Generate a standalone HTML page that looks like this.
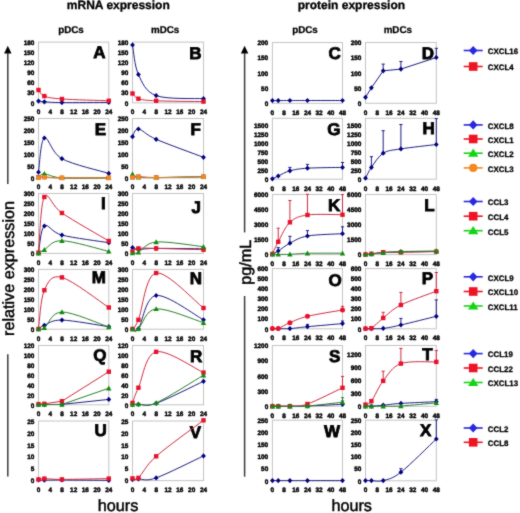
<!DOCTYPE html>
<html><head><meta charset="utf-8"><title>figure</title><style>html,body{margin:0;padding:0;background:#fff;width:520px;height:513px;overflow:hidden}svg{display:block}#w{will-change:transform;width:520px;height:513px}</style></head><body><div id="w">
<svg width="520" height="513" viewBox="0 0 520 513">
<style>text{font-family:"Liberation Sans", sans-serif;fill:#000;text-rendering:geometricPrecision}.ax{font-size:6.4px;font-weight:bold;stroke:#000;stroke-width:0.45px;stroke-linejoin:round}.lt{font-size:17px;font-weight:bold;stroke:#000;stroke-width:0.8px}.hd{font-size:12px;font-weight:bold;stroke:#000;stroke-width:0.3px}.sh{font-size:9.8px;font-weight:bold;stroke:#000;stroke-width:0.25px}.lg{font-size:7.9px;font-weight:bold;stroke:#000;stroke-width:0.3px;stroke-linejoin:round}.big{font-size:16.2px;stroke:#000;stroke-width:0.45px}</style>
<defs><filter id="bl" color-interpolation-filters="sRGB" x="0" y="0" width="520" height="513" filterUnits="userSpaceOnUse"><feConvolveMatrix order="3" kernelMatrix="0.025 0.085 0.025 0.085 0.56 0.085 0.025 0.085 0.025" preserveAlpha="true" edgeMode="duplicate"/></filter></defs>
<g filter="url(#bl)">
<rect width="520" height="513" fill="#fff"/>
<text x="118.3" y="9.4" text-anchor="middle" class="hd">mRNA expression</text>
<text x="351.4" y="9.4" text-anchor="middle" class="hd">protein expression</text>
<text x="71" y="32.5" text-anchor="middle" class="sh">pDCs</text>
<text x="165.1" y="32.5" text-anchor="middle" class="sh">mDCs</text>
<text x="305" y="32.5" text-anchor="middle" class="sh">pDCs</text>
<text x="397.8" y="32.5" text-anchor="middle" class="sh">mDCs</text>
<path d="M7.8,45.8 L11.5,53.6 L4.1,53.6 Z" fill="#000"/>
<path d="M7.8,53 V184" stroke="#3a3a3a" stroke-width="1.5"/>
<path d="M7.8,354.2 V476.4" stroke="#3a3a3a" stroke-width="1.5"/>
<path d="M244.6,45.8 L248.3,53.6 L240.9,53.6 Z" fill="#000"/>
<path d="M244.6,53 V232.4" stroke="#3a3a3a" stroke-width="1.5"/>
<path d="M244.6,296 V476.7" stroke="#3a3a3a" stroke-width="1.5"/>
<text transform="translate(14.4,268.5) rotate(-90)" text-anchor="middle" class="big">relative expression</text>
<text transform="translate(251.2,262.3) rotate(-90)" text-anchor="middle" class="big">pg/mL</text>
<text x="118" y="510.6" text-anchor="middle" class="big">hours</text>
<text x="351.7" y="511.2" text-anchor="middle" class="big">hours</text>
<rect x="38.5" y="42.1" width="70.3" height="60.8" fill="none" stroke="#c4c4c4" stroke-width="1"/>
<text x="34.3" y="105.6" text-anchor="end" class="ax">0</text>
<text x="34.3" y="95.47" text-anchor="end" class="ax">30</text>
<text x="34.3" y="85.33" text-anchor="end" class="ax">60</text>
<text x="34.3" y="75.2" text-anchor="end" class="ax">90</text>
<text x="34.3" y="65.07" text-anchor="end" class="ax">120</text>
<text x="34.3" y="54.93" text-anchor="end" class="ax">150</text>
<text x="34.3" y="44.8" text-anchor="end" class="ax">180</text>
<text x="38.5" y="114.4" text-anchor="middle" class="ax">0</text>
<text x="50.22" y="114.4" text-anchor="middle" class="ax">4</text>
<text x="61.93" y="114.4" text-anchor="middle" class="ax">8</text>
<text x="73.65" y="114.4" text-anchor="middle" class="ax">12</text>
<text x="85.37" y="114.4" text-anchor="middle" class="ax">16</text>
<text x="97.08" y="114.4" text-anchor="middle" class="ax">20</text>
<text x="108.8" y="114.4" text-anchor="middle" class="ax">24</text>
<text x="105.5" y="57.7" text-anchor="end" class="lt">A</text>
<path d="M38.5,101.1 C39.48,101.22 40.45,101.55 44.36,101.8 C48.26,102.05 51.19,102.48 61.93,102.6 C72.67,102.72 100.99,102.52 108.8,102.5" stroke="#1c1c80" stroke-width="1" fill="none"/>
<path d="M38.5,98.5 L40.9,101.1 L38.5,103.7 L36.1,101.1 Z" fill="#000080"/>
<path d="M44.36,99.2 L46.76,101.8 L44.36,104.4 L41.96,101.8 Z" fill="#000080"/>
<path d="M61.93,100 L64.33,102.6 L61.93,105.2 L59.53,102.6 Z" fill="#000080"/>
<path d="M108.8,99.9 L111.2,102.5 L108.8,105.1 L106.4,102.5 Z" fill="#000080"/>
<path d="M38.5,90 C39.48,91.02 40.45,94.6 44.36,96.1 C48.26,97.6 51.19,98.22 61.93,99 C72.67,99.78 100.99,100.5 108.8,100.8" stroke="#cc2a40" stroke-width="1" fill="none"/>
<rect x="36.3" y="87.8" width="4.4" height="4.4" fill="#e8102a"/>
<rect x="42.16" y="93.9" width="4.4" height="4.4" fill="#e8102a"/>
<rect x="59.73" y="96.8" width="4.4" height="4.4" fill="#e8102a"/>
<rect x="106.6" y="98.6" width="4.4" height="4.4" fill="#e8102a"/>
<rect x="132.5" y="42.1" width="71" height="60.8" fill="none" stroke="#c4c4c4" stroke-width="1"/>
<text x="128.3" y="105.6" text-anchor="end" class="ax">0</text>
<text x="128.3" y="95.47" text-anchor="end" class="ax">30</text>
<text x="128.3" y="85.33" text-anchor="end" class="ax">60</text>
<text x="128.3" y="75.2" text-anchor="end" class="ax">90</text>
<text x="128.3" y="65.07" text-anchor="end" class="ax">120</text>
<text x="128.3" y="54.93" text-anchor="end" class="ax">150</text>
<text x="128.3" y="44.8" text-anchor="end" class="ax">180</text>
<text x="132.5" y="114.4" text-anchor="middle" class="ax">0</text>
<text x="144.33" y="114.4" text-anchor="middle" class="ax">4</text>
<text x="156.17" y="114.4" text-anchor="middle" class="ax">8</text>
<text x="168" y="114.4" text-anchor="middle" class="ax">12</text>
<text x="179.83" y="114.4" text-anchor="middle" class="ax">16</text>
<text x="191.67" y="114.4" text-anchor="middle" class="ax">20</text>
<text x="203.5" y="114.4" text-anchor="middle" class="ax">24</text>
<text x="201.5" y="59.3" text-anchor="end" class="lt">B</text>
<path d="M132.5,44.9 C133.49,49.83 134.47,66.05 138.42,74.5 C142.36,82.95 145.32,91.57 156.17,95.6 C167.01,99.63 195.61,98.18 203.5,98.7" stroke="#1c1c80" stroke-width="1" fill="none"/>
<path d="M132.5,42.3 L134.9,44.9 L132.5,47.5 L130.1,44.9 Z" fill="#000080"/>
<path d="M138.42,71.9 L140.82,74.5 L138.42,77.1 L136.02,74.5 Z" fill="#000080"/>
<path d="M156.17,93 L158.57,95.6 L156.17,98.2 L153.77,95.6 Z" fill="#000080"/>
<path d="M203.5,96.1 L205.9,98.7 L203.5,101.3 L201.1,98.7 Z" fill="#000080"/>
<path d="M132.5,93.5 C133.49,94.37 134.47,97.48 138.42,98.7 C142.36,99.92 145.32,100.32 156.17,100.8 C167.01,101.28 195.61,101.47 203.5,101.6" stroke="#cc2a40" stroke-width="1" fill="none"/>
<rect x="130.3" y="91.3" width="4.4" height="4.4" fill="#e8102a"/>
<rect x="136.22" y="96.5" width="4.4" height="4.4" fill="#e8102a"/>
<rect x="153.97" y="98.6" width="4.4" height="4.4" fill="#e8102a"/>
<rect x="201.3" y="99.4" width="4.4" height="4.4" fill="#e8102a"/>
<rect x="272.4" y="42.5" width="70.1" height="60.8" fill="none" stroke="#c4c4c4" stroke-width="1"/>
<text x="268.2" y="106" text-anchor="end" class="ax">0</text>
<text x="268.2" y="90.8" text-anchor="end" class="ax">50</text>
<text x="268.2" y="75.6" text-anchor="end" class="ax">100</text>
<text x="268.2" y="60.4" text-anchor="end" class="ax">150</text>
<text x="268.2" y="45.2" text-anchor="end" class="ax">200</text>
<text x="272.4" y="114.8" text-anchor="middle" class="ax">0</text>
<text x="284.08" y="114.8" text-anchor="middle" class="ax">8</text>
<text x="295.77" y="114.8" text-anchor="middle" class="ax">16</text>
<text x="307.45" y="114.8" text-anchor="middle" class="ax">24</text>
<text x="319.13" y="114.8" text-anchor="middle" class="ax">32</text>
<text x="330.82" y="114.8" text-anchor="middle" class="ax">40</text>
<text x="342.5" y="114.8" text-anchor="middle" class="ax">48</text>
<text x="340.9" y="59.2" text-anchor="end" class="lt">C</text>
<path d="M272.4,100.6 C273.37,100.6 275.32,100.62 278.24,100.6 C281.16,100.58 285.06,100.52 289.92,100.5 C294.79,100.48 298.69,100.5 307.45,100.5 C316.21,100.5 336.66,100.5 342.5,100.5" stroke="#1c1c80" stroke-width="1" fill="none"/>
<path d="M272.4,98 L274.8,100.6 L272.4,103.2 L270,100.6 Z" fill="#000080"/>
<path d="M278.24,98 L280.64,100.6 L278.24,103.2 L275.84,100.6 Z" fill="#000080"/>
<path d="M289.92,97.9 L292.32,100.5 L289.92,103.1 L287.52,100.5 Z" fill="#000080"/>
<path d="M307.45,97.9 L309.85,100.5 L307.45,103.1 L305.05,100.5 Z" fill="#000080"/>
<path d="M342.5,97.9 L344.9,100.5 L342.5,103.1 L340.1,100.5 Z" fill="#000080"/>
<rect x="365.5" y="42.5" width="70.8" height="60.8" fill="none" stroke="#c4c4c4" stroke-width="1"/>
<text x="361.3" y="106" text-anchor="end" class="ax">0</text>
<text x="361.3" y="90.8" text-anchor="end" class="ax">50</text>
<text x="361.3" y="75.6" text-anchor="end" class="ax">100</text>
<text x="361.3" y="60.4" text-anchor="end" class="ax">150</text>
<text x="361.3" y="45.2" text-anchor="end" class="ax">200</text>
<text x="365.5" y="114.8" text-anchor="middle" class="ax">0</text>
<text x="377.3" y="114.8" text-anchor="middle" class="ax">8</text>
<text x="389.1" y="114.8" text-anchor="middle" class="ax">16</text>
<text x="400.9" y="114.8" text-anchor="middle" class="ax">24</text>
<text x="412.7" y="114.8" text-anchor="middle" class="ax">32</text>
<text x="424.5" y="114.8" text-anchor="middle" class="ax">40</text>
<text x="436.3" y="114.8" text-anchor="middle" class="ax">48</text>
<text x="434.1" y="58.5" text-anchor="end" class="lt">D</text>
<path d="M383.2,70.8 V64.1 M381.6,64.1 H384.8" stroke="#1c1c80" stroke-width="1" fill="none"/>
<path d="M400.9,69.1 V61.5 M399.3,61.5 H402.5" stroke="#1c1c80" stroke-width="1" fill="none"/>
<path d="M436.3,57.5 V48.3 M434.7,48.3 H437.9" stroke="#1c1c80" stroke-width="1" fill="none"/>
<path d="M365.5,97.3 L371.4,87.8 L383.2,70.8 L400.9,69.1 L436.3,57.5" stroke="#1c1c80" stroke-width="1" fill="none"/>
<path d="M365.5,94.7 L367.9,97.3 L365.5,99.9 L363.1,97.3 Z" fill="#000080"/>
<path d="M371.4,85.2 L373.8,87.8 L371.4,90.4 L369,87.8 Z" fill="#000080"/>
<path d="M383.2,68.2 L385.6,70.8 L383.2,73.4 L380.8,70.8 Z" fill="#000080"/>
<path d="M400.9,66.5 L403.3,69.1 L400.9,71.7 L398.5,69.1 Z" fill="#000080"/>
<path d="M436.3,54.9 L438.7,57.5 L436.3,60.1 L433.9,57.5 Z" fill="#000080"/>
<rect x="38.5" y="118.5" width="70.3" height="59.4" fill="none" stroke="#c4c4c4" stroke-width="1"/>
<text x="34.3" y="180.6" text-anchor="end" class="ax">0</text>
<text x="34.3" y="168.72" text-anchor="end" class="ax">50</text>
<text x="34.3" y="156.84" text-anchor="end" class="ax">100</text>
<text x="34.3" y="144.96" text-anchor="end" class="ax">150</text>
<text x="34.3" y="133.08" text-anchor="end" class="ax">200</text>
<text x="34.3" y="121.2" text-anchor="end" class="ax">250</text>
<text x="38.5" y="189.4" text-anchor="middle" class="ax">0</text>
<text x="50.22" y="189.4" text-anchor="middle" class="ax">4</text>
<text x="61.93" y="189.4" text-anchor="middle" class="ax">8</text>
<text x="73.65" y="189.4" text-anchor="middle" class="ax">12</text>
<text x="85.37" y="189.4" text-anchor="middle" class="ax">16</text>
<text x="97.08" y="189.4" text-anchor="middle" class="ax">20</text>
<text x="108.8" y="189.4" text-anchor="middle" class="ax">24</text>
<text x="106.2" y="135" text-anchor="end" class="lt">E</text>
<path d="M38.5,172.2 C39.48,166.5 40.45,140.25 44.36,138 C48.26,135.75 51.19,152.8 61.93,158.7 C72.67,164.6 100.99,170.95 108.8,173.4" stroke="#1c1c80" stroke-width="1" fill="none"/>
<path d="M38.5,177.2 C39.48,177.17 40.45,176.88 44.36,177 C48.26,177.12 51.19,177.75 61.93,177.9 C72.67,178.05 100.99,177.9 108.8,177.9" stroke="#cc2a40" stroke-width="1" fill="none"/>
<path d="M38.5,177.4 C39.48,176.8 40.45,173.72 44.36,173.8 C48.26,173.88 51.19,177.22 61.93,177.9 C72.67,178.58 100.99,177.9 108.8,177.9" stroke="#2a802a" stroke-width="1" fill="none"/>
<path d="M38.5,177.6 C39.48,177.55 40.45,177.25 44.36,177.3 C48.26,177.35 51.19,177.8 61.93,177.9 C72.67,178 100.99,177.9 108.8,177.9" stroke="#d88a30" stroke-width="1" fill="none"/>
<path d="M38.5,169.6 L40.9,172.2 L38.5,174.8 L36.1,172.2 Z" fill="#000080"/>
<path d="M44.36,135.4 L46.76,138 L44.36,140.6 L41.96,138 Z" fill="#000080"/>
<path d="M61.93,156.1 L64.33,158.7 L61.93,161.3 L59.53,158.7 Z" fill="#000080"/>
<path d="M108.8,170.8 L111.2,173.4 L108.8,176 L106.4,173.4 Z" fill="#000080"/>
<rect x="36.3" y="175" width="4.4" height="4.4" fill="#e8102a"/>
<rect x="42.16" y="174.8" width="4.4" height="4.4" fill="#e8102a"/>
<rect x="59.73" y="175.7" width="4.4" height="4.4" fill="#e8102a"/>
<rect x="106.6" y="175.7" width="4.4" height="4.4" fill="#e8102a"/>
<path d="M38.5,174.7 L41.2,179.6 L35.8,179.6 Z" fill="#108a10"/>
<path d="M44.36,171.1 L47.06,176 L41.66,176 Z" fill="#108a10"/>
<path d="M61.93,175.2 L64.63,180.1 L59.23,180.1 Z" fill="#108a10"/>
<path d="M108.8,175.2 L111.5,180.1 L106.1,180.1 Z" fill="#108a10"/>
<rect x="36.3" y="175.4" width="4.4" height="4.4" fill="#f08a20"/>
<rect x="42.16" y="175.1" width="4.4" height="4.4" fill="#f08a20"/>
<rect x="59.73" y="175.7" width="4.4" height="4.4" fill="#f08a20"/>
<rect x="106.6" y="175.7" width="4.4" height="4.4" fill="#f08a20"/>
<rect x="132.5" y="118.5" width="71" height="59.4" fill="none" stroke="#c4c4c4" stroke-width="1"/>
<text x="128.3" y="180.6" text-anchor="end" class="ax">0</text>
<text x="128.3" y="168.72" text-anchor="end" class="ax">50</text>
<text x="128.3" y="156.84" text-anchor="end" class="ax">100</text>
<text x="128.3" y="144.96" text-anchor="end" class="ax">150</text>
<text x="128.3" y="133.08" text-anchor="end" class="ax">200</text>
<text x="128.3" y="121.2" text-anchor="end" class="ax">250</text>
<text x="132.5" y="189.4" text-anchor="middle" class="ax">0</text>
<text x="144.33" y="189.4" text-anchor="middle" class="ax">4</text>
<text x="156.17" y="189.4" text-anchor="middle" class="ax">8</text>
<text x="168" y="189.4" text-anchor="middle" class="ax">12</text>
<text x="179.83" y="189.4" text-anchor="middle" class="ax">16</text>
<text x="191.67" y="189.4" text-anchor="middle" class="ax">20</text>
<text x="203.5" y="189.4" text-anchor="middle" class="ax">24</text>
<text x="200.9" y="135" text-anchor="end" class="lt">F</text>
<path d="M132.5,136.7 C133.49,135.42 134.47,128.57 138.42,129 C142.36,129.43 145.32,134.58 156.17,139.3 C167.01,144.02 195.61,154.3 203.5,157.3" stroke="#1c1c80" stroke-width="1" fill="none"/>
<path d="M132.5,177.2 C133.49,177.12 134.47,176.65 138.42,176.7 C142.36,176.75 145.32,177.5 156.17,177.5 C167.01,177.5 195.61,176.83 203.5,176.7" stroke="#cc2a40" stroke-width="1" fill="none"/>
<path d="M132.5,174 C133.49,174.53 134.47,176.6 138.42,177.2 C142.36,177.8 145.32,177.7 156.17,177.6 C167.01,177.5 195.61,176.77 203.5,176.6" stroke="#2a802a" stroke-width="1" fill="none"/>
<path d="M132.5,177.5 C133.49,177.4 134.47,176.87 138.42,176.9 C142.36,176.93 145.32,177.7 156.17,177.7 C167.01,177.7 195.61,177.03 203.5,176.9" stroke="#d88a30" stroke-width="1" fill="none"/>
<path d="M132.5,134.1 L134.9,136.7 L132.5,139.3 L130.1,136.7 Z" fill="#000080"/>
<path d="M138.42,126.4 L140.82,129 L138.42,131.6 L136.02,129 Z" fill="#000080"/>
<path d="M156.17,136.7 L158.57,139.3 L156.17,141.9 L153.77,139.3 Z" fill="#000080"/>
<path d="M203.5,154.7 L205.9,157.3 L203.5,159.9 L201.1,157.3 Z" fill="#000080"/>
<rect x="130.3" y="175" width="4.4" height="4.4" fill="#e8102a"/>
<rect x="136.22" y="174.5" width="4.4" height="4.4" fill="#e8102a"/>
<rect x="153.97" y="175.3" width="4.4" height="4.4" fill="#e8102a"/>
<rect x="201.3" y="174.5" width="4.4" height="4.4" fill="#e8102a"/>
<path d="M132.5,171.3 L135.2,176.2 L129.8,176.2 Z" fill="#108a10"/>
<path d="M138.42,174.5 L141.12,179.4 L135.72,179.4 Z" fill="#108a10"/>
<path d="M156.17,174.9 L158.87,179.8 L153.47,179.8 Z" fill="#108a10"/>
<path d="M203.5,173.9 L206.2,178.8 L200.8,178.8 Z" fill="#108a10"/>
<rect x="130.3" y="175.3" width="4.4" height="4.4" fill="#f08a20"/>
<rect x="136.22" y="174.7" width="4.4" height="4.4" fill="#f08a20"/>
<rect x="153.97" y="175.5" width="4.4" height="4.4" fill="#f08a20"/>
<rect x="201.3" y="174.7" width="4.4" height="4.4" fill="#f08a20"/>
<rect x="272.4" y="118.3" width="70.1" height="60.9" fill="none" stroke="#c4c4c4" stroke-width="1"/>
<text x="268.2" y="181.9" text-anchor="end" class="ax">0</text>
<text x="268.2" y="172.97" text-anchor="end" class="ax">250</text>
<text x="268.2" y="164.03" text-anchor="end" class="ax">500</text>
<text x="268.2" y="155.1" text-anchor="end" class="ax">750</text>
<text x="268.2" y="146.16" text-anchor="end" class="ax">1000</text>
<text x="268.2" y="137.23" text-anchor="end" class="ax">1250</text>
<text x="268.2" y="128.29" text-anchor="end" class="ax">1500</text>
<text x="272.4" y="190.7" text-anchor="middle" class="ax">0</text>
<text x="284.08" y="190.7" text-anchor="middle" class="ax">8</text>
<text x="295.77" y="190.7" text-anchor="middle" class="ax">16</text>
<text x="307.45" y="190.7" text-anchor="middle" class="ax">24</text>
<text x="319.13" y="190.7" text-anchor="middle" class="ax">32</text>
<text x="330.82" y="190.7" text-anchor="middle" class="ax">40</text>
<text x="342.5" y="190.7" text-anchor="middle" class="ax">48</text>
<text x="340.5" y="135.3" text-anchor="end" class="lt">G</text>
<path d="M289.92,170.8 V167.4 M288.32,167.4 H291.52" stroke="#1c1c80" stroke-width="1" fill="none"/>
<path d="M307.45,168.2 V164.4 M305.85,164.4 H309.05" stroke="#1c1c80" stroke-width="1" fill="none"/>
<path d="M342.5,167.4 V162.5 M340.9,162.5 H344.1" stroke="#1c1c80" stroke-width="1" fill="none"/>
<path d="M272.4,178.8 C273.37,178.33 275.32,177.33 278.24,176 C281.16,174.67 285.06,172.1 289.92,170.8 C294.79,169.5 298.69,168.77 307.45,168.2 C316.21,167.63 336.66,167.53 342.5,167.4" stroke="#1c1c80" stroke-width="1" fill="none"/>
<path d="M272.4,176.2 L274.8,178.8 L272.4,181.4 L270,178.8 Z" fill="#000080"/>
<path d="M278.24,173.4 L280.64,176 L278.24,178.6 L275.84,176 Z" fill="#000080"/>
<path d="M289.92,168.2 L292.32,170.8 L289.92,173.4 L287.52,170.8 Z" fill="#000080"/>
<path d="M307.45,165.6 L309.85,168.2 L307.45,170.8 L305.05,168.2 Z" fill="#000080"/>
<path d="M342.5,164.8 L344.9,167.4 L342.5,170 L340.1,167.4 Z" fill="#000080"/>
<rect x="365.5" y="118.3" width="70.8" height="60.9" fill="none" stroke="#c4c4c4" stroke-width="1"/>
<text x="361.3" y="181.9" text-anchor="end" class="ax">0</text>
<text x="361.3" y="172.97" text-anchor="end" class="ax">250</text>
<text x="361.3" y="164.03" text-anchor="end" class="ax">500</text>
<text x="361.3" y="155.1" text-anchor="end" class="ax">750</text>
<text x="361.3" y="146.16" text-anchor="end" class="ax">1000</text>
<text x="361.3" y="137.23" text-anchor="end" class="ax">1250</text>
<text x="361.3" y="128.29" text-anchor="end" class="ax">1500</text>
<text x="365.5" y="190.7" text-anchor="middle" class="ax">0</text>
<text x="377.3" y="190.7" text-anchor="middle" class="ax">8</text>
<text x="389.1" y="190.7" text-anchor="middle" class="ax">16</text>
<text x="400.9" y="190.7" text-anchor="middle" class="ax">24</text>
<text x="412.7" y="190.7" text-anchor="middle" class="ax">32</text>
<text x="424.5" y="190.7" text-anchor="middle" class="ax">40</text>
<text x="436.3" y="190.7" text-anchor="middle" class="ax">48</text>
<text x="434.9" y="134.4" text-anchor="end" class="lt">H</text>
<path d="M371.4,167.4 V156.7 M369.8,156.7 H373" stroke="#1c1c80" stroke-width="1" fill="none"/>
<path d="M383.2,153.2 V130.7 M381.6,130.7 H384.8" stroke="#1c1c80" stroke-width="1" fill="none"/>
<path d="M400.9,148.9 V124.5 M399.3,124.5 H402.5" stroke="#1c1c80" stroke-width="1" fill="none"/>
<path d="M436.3,144.5 V118.6 M434.7,118.6 H437.9" stroke="#1c1c80" stroke-width="1" fill="none"/>
<path d="M365.5,178.2 C366.48,176.4 368.45,171.57 371.4,167.4 C374.35,163.23 378.28,156.28 383.2,153.2 C388.12,150.12 392.05,150.35 400.9,148.9 C409.75,147.45 430.4,145.23 436.3,144.5" stroke="#1c1c80" stroke-width="1" fill="none"/>
<path d="M365.5,175.6 L367.9,178.2 L365.5,180.8 L363.1,178.2 Z" fill="#000080"/>
<path d="M371.4,164.8 L373.8,167.4 L371.4,170 L369,167.4 Z" fill="#000080"/>
<path d="M383.2,150.6 L385.6,153.2 L383.2,155.8 L380.8,153.2 Z" fill="#000080"/>
<path d="M400.9,146.3 L403.3,148.9 L400.9,151.5 L398.5,148.9 Z" fill="#000080"/>
<path d="M436.3,141.9 L438.7,144.5 L436.3,147.1 L433.9,144.5 Z" fill="#000080"/>
<rect x="38.5" y="193.5" width="70.3" height="59.9" fill="none" stroke="#c4c4c4" stroke-width="1"/>
<text x="34.3" y="256.1" text-anchor="end" class="ax">0</text>
<text x="34.3" y="246.12" text-anchor="end" class="ax">50</text>
<text x="34.3" y="236.13" text-anchor="end" class="ax">100</text>
<text x="34.3" y="226.15" text-anchor="end" class="ax">150</text>
<text x="34.3" y="216.17" text-anchor="end" class="ax">200</text>
<text x="34.3" y="206.18" text-anchor="end" class="ax">250</text>
<text x="34.3" y="196.2" text-anchor="end" class="ax">300</text>
<text x="38.5" y="264.9" text-anchor="middle" class="ax">0</text>
<text x="50.22" y="264.9" text-anchor="middle" class="ax">4</text>
<text x="61.93" y="264.9" text-anchor="middle" class="ax">8</text>
<text x="73.65" y="264.9" text-anchor="middle" class="ax">12</text>
<text x="85.37" y="264.9" text-anchor="middle" class="ax">16</text>
<text x="97.08" y="264.9" text-anchor="middle" class="ax">20</text>
<text x="108.8" y="264.9" text-anchor="middle" class="ax">24</text>
<text x="105.8" y="209.2" text-anchor="end" class="lt">I</text>
<path d="M38.5,253.2 C39.48,248.67 40.45,229.02 44.36,226 C48.26,222.98 51.19,232.32 61.93,235.1 C72.67,237.88 100.99,241.43 108.8,242.7" stroke="#1c1c80" stroke-width="1" fill="none"/>
<path d="M38.5,250.6 L40.9,253.2 L38.5,255.8 L36.1,253.2 Z" fill="#000080"/>
<path d="M44.36,223.4 L46.76,226 L44.36,228.6 L41.96,226 Z" fill="#000080"/>
<path d="M61.93,232.5 L64.33,235.1 L61.93,237.7 L59.53,235.1 Z" fill="#000080"/>
<path d="M108.8,240.1 L111.2,242.7 L108.8,245.3 L106.4,242.7 Z" fill="#000080"/>
<path d="M38.5,252.6 C39.48,243.33 40.45,203.6 44.36,197 C48.26,190.4 51.19,205.67 61.93,213 C72.67,220.33 100.99,236.33 108.8,241" stroke="#cc2a40" stroke-width="1" fill="none"/>
<rect x="36.3" y="250.4" width="4.4" height="4.4" fill="#e8102a"/>
<rect x="42.16" y="194.8" width="4.4" height="4.4" fill="#e8102a"/>
<rect x="59.73" y="210.8" width="4.4" height="4.4" fill="#e8102a"/>
<rect x="106.6" y="238.8" width="4.4" height="4.4" fill="#e8102a"/>
<path d="M38.5,253.2 C39.48,252.62 40.45,251.78 44.36,249.7 C48.26,247.62 51.19,240.42 61.93,240.7 C72.67,240.98 100.99,249.62 108.8,251.4" stroke="#2a802a" stroke-width="1" fill="none"/>
<path d="M38.5,250.5 L41.2,255.4 L35.8,255.4 Z" fill="#108a10"/>
<path d="M44.36,247 L47.06,251.9 L41.66,251.9 Z" fill="#108a10"/>
<path d="M61.93,238 L64.63,242.9 L59.23,242.9 Z" fill="#108a10"/>
<path d="M108.8,248.7 L111.5,253.6 L106.1,253.6 Z" fill="#108a10"/>
<rect x="132.5" y="193.5" width="71" height="59.9" fill="none" stroke="#c4c4c4" stroke-width="1"/>
<text x="128.3" y="256.1" text-anchor="end" class="ax">0</text>
<text x="128.3" y="246.12" text-anchor="end" class="ax">50</text>
<text x="128.3" y="236.13" text-anchor="end" class="ax">100</text>
<text x="128.3" y="226.15" text-anchor="end" class="ax">150</text>
<text x="128.3" y="216.17" text-anchor="end" class="ax">200</text>
<text x="128.3" y="206.18" text-anchor="end" class="ax">250</text>
<text x="128.3" y="196.2" text-anchor="end" class="ax">300</text>
<text x="132.5" y="264.9" text-anchor="middle" class="ax">0</text>
<text x="144.33" y="264.9" text-anchor="middle" class="ax">4</text>
<text x="156.17" y="264.9" text-anchor="middle" class="ax">8</text>
<text x="168" y="264.9" text-anchor="middle" class="ax">12</text>
<text x="179.83" y="264.9" text-anchor="middle" class="ax">16</text>
<text x="191.67" y="264.9" text-anchor="middle" class="ax">20</text>
<text x="203.5" y="264.9" text-anchor="middle" class="ax">24</text>
<text x="200.9" y="212.8" text-anchor="end" class="lt">J</text>
<path d="M132.5,247.6 C133.49,247.88 134.47,249.17 138.42,249.3 C142.36,249.43 145.32,248.48 156.17,248.4 C167.01,248.32 195.61,248.73 203.5,248.8" stroke="#1c1c80" stroke-width="1" fill="none"/>
<path d="M132.5,245 L134.9,247.6 L132.5,250.2 L130.1,247.6 Z" fill="#000080"/>
<path d="M138.42,246.7 L140.82,249.3 L138.42,251.9 L136.02,249.3 Z" fill="#000080"/>
<path d="M156.17,245.8 L158.57,248.4 L156.17,251 L153.77,248.4 Z" fill="#000080"/>
<path d="M203.5,246.2 L205.9,248.8 L203.5,251.4 L201.1,248.8 Z" fill="#000080"/>
<path d="M132.5,251.4 C133.49,250.9 134.47,248.9 138.42,248.4 C142.36,247.9 145.32,248.18 156.17,248.4 C167.01,248.62 195.61,249.48 203.5,249.7" stroke="#cc2a40" stroke-width="1" fill="none"/>
<rect x="130.3" y="249.2" width="4.4" height="4.4" fill="#e8102a"/>
<rect x="136.22" y="246.2" width="4.4" height="4.4" fill="#e8102a"/>
<rect x="153.97" y="246.2" width="4.4" height="4.4" fill="#e8102a"/>
<rect x="201.3" y="247.5" width="4.4" height="4.4" fill="#e8102a"/>
<path d="M132.5,253.1 C133.49,252.98 134.47,254.25 138.42,252.4 C142.36,250.55 145.32,242.95 156.17,242 C167.01,241.05 195.61,245.92 203.5,246.7" stroke="#2a802a" stroke-width="1" fill="none"/>
<path d="M132.5,250.4 L135.2,255.3 L129.8,255.3 Z" fill="#108a10"/>
<path d="M138.42,249.7 L141.12,254.6 L135.72,254.6 Z" fill="#108a10"/>
<path d="M156.17,239.3 L158.87,244.2 L153.47,244.2 Z" fill="#108a10"/>
<path d="M203.5,244 L206.2,248.9 L200.8,248.9 Z" fill="#108a10"/>
<rect x="272.4" y="194.5" width="70.1" height="60.1" fill="none" stroke="#c4c4c4" stroke-width="1"/>
<text x="268.2" y="257.3" text-anchor="end" class="ax">0</text>
<text x="268.2" y="242.27" text-anchor="end" class="ax">1500</text>
<text x="268.2" y="227.25" text-anchor="end" class="ax">3000</text>
<text x="268.2" y="212.22" text-anchor="end" class="ax">4500</text>
<text x="268.2" y="197.2" text-anchor="end" class="ax">6000</text>
<text x="272.4" y="266.1" text-anchor="middle" class="ax">0</text>
<text x="284.08" y="266.1" text-anchor="middle" class="ax">8</text>
<text x="295.77" y="266.1" text-anchor="middle" class="ax">16</text>
<text x="307.45" y="266.1" text-anchor="middle" class="ax">24</text>
<text x="319.13" y="266.1" text-anchor="middle" class="ax">32</text>
<text x="330.82" y="266.1" text-anchor="middle" class="ax">40</text>
<text x="342.5" y="266.1" text-anchor="middle" class="ax">48</text>
<text x="340.3" y="210.8" text-anchor="end" class="lt">K</text>
<path d="M278.24,251 V247.6 M276.64,247.6 H279.84" stroke="#1c1c80" stroke-width="1" fill="none"/>
<path d="M289.92,243.2 V236.3 M288.32,236.3 H291.52" stroke="#1c1c80" stroke-width="1" fill="none"/>
<path d="M307.45,236 V230.6 M305.85,230.6 H309.05" stroke="#1c1c80" stroke-width="1" fill="none"/>
<path d="M342.5,233.7 V226.8 M340.9,226.8 H344.1" stroke="#1c1c80" stroke-width="1" fill="none"/>
<path d="M272.4,254.2 C273.37,253.67 275.32,252.83 278.24,251 C281.16,249.17 285.06,245.7 289.92,243.2 C294.79,240.7 298.69,237.58 307.45,236 C316.21,234.42 336.66,234.08 342.5,233.7" stroke="#1c1c80" stroke-width="1" fill="none"/>
<path d="M272.4,251.6 L274.8,254.2 L272.4,256.8 L270,254.2 Z" fill="#000080"/>
<path d="M278.24,248.4 L280.64,251 L278.24,253.6 L275.84,251 Z" fill="#000080"/>
<path d="M289.92,240.6 L292.32,243.2 L289.92,245.8 L287.52,243.2 Z" fill="#000080"/>
<path d="M307.45,233.4 L309.85,236 L307.45,238.6 L305.05,236 Z" fill="#000080"/>
<path d="M342.5,231.1 L344.9,233.7 L342.5,236.3 L340.1,233.7 Z" fill="#000080"/>
<path d="M278.24,241.8 V228.2 M276.64,228.2 H279.84" stroke="#cc2a40" stroke-width="1" fill="none"/>
<path d="M289.92,222.3 V200.5 M288.32,200.5 H291.52" stroke="#cc2a40" stroke-width="1" fill="none"/>
<path d="M307.45,215 V194.3 M305.85,194.3 H309.05" stroke="#cc2a40" stroke-width="1" fill="none"/>
<path d="M342.5,214.7 V194.6 M340.9,194.6 H344.1" stroke="#cc2a40" stroke-width="1" fill="none"/>
<path d="M272.4,254 C273.37,251.97 275.32,247.08 278.24,241.8 C281.16,236.52 285.06,226.77 289.92,222.3 C294.79,217.83 298.69,216.27 307.45,215 C316.21,213.73 336.66,214.75 342.5,214.7" stroke="#cc2a40" stroke-width="1" fill="none"/>
<rect x="270.2" y="251.8" width="4.4" height="4.4" fill="#e8102a"/>
<rect x="276.04" y="239.6" width="4.4" height="4.4" fill="#e8102a"/>
<rect x="287.72" y="220.1" width="4.4" height="4.4" fill="#e8102a"/>
<rect x="305.25" y="212.8" width="4.4" height="4.4" fill="#e8102a"/>
<rect x="340.3" y="212.5" width="4.4" height="4.4" fill="#e8102a"/>
<path d="M272.4,254.4 C273.37,254.4 275.32,254.42 278.24,254.4 C281.16,254.38 285.06,254.48 289.92,254.3 C294.79,254.12 298.69,253.48 307.45,253.3 C316.21,253.12 336.66,253.22 342.5,253.2" stroke="#2a802a" stroke-width="1" fill="none"/>
<path d="M272.4,251.7 L275.1,256.6 L269.7,256.6 Z" fill="#108a10"/>
<path d="M278.24,251.7 L280.94,256.6 L275.54,256.6 Z" fill="#108a10"/>
<path d="M289.92,251.6 L292.62,256.5 L287.22,256.5 Z" fill="#108a10"/>
<path d="M307.45,250.6 L310.15,255.5 L304.75,255.5 Z" fill="#108a10"/>
<path d="M342.5,250.5 L345.2,255.4 L339.8,255.4 Z" fill="#108a10"/>
<rect x="365.5" y="194.5" width="70.8" height="60.1" fill="none" stroke="#c4c4c4" stroke-width="1"/>
<text x="361.3" y="257.3" text-anchor="end" class="ax">0</text>
<text x="361.3" y="242.27" text-anchor="end" class="ax">1500</text>
<text x="361.3" y="227.25" text-anchor="end" class="ax">3000</text>
<text x="361.3" y="212.22" text-anchor="end" class="ax">4500</text>
<text x="361.3" y="197.2" text-anchor="end" class="ax">6000</text>
<text x="365.5" y="266.1" text-anchor="middle" class="ax">0</text>
<text x="377.3" y="266.1" text-anchor="middle" class="ax">8</text>
<text x="389.1" y="266.1" text-anchor="middle" class="ax">16</text>
<text x="400.9" y="266.1" text-anchor="middle" class="ax">24</text>
<text x="412.7" y="266.1" text-anchor="middle" class="ax">32</text>
<text x="424.5" y="266.1" text-anchor="middle" class="ax">40</text>
<text x="436.3" y="266.1" text-anchor="middle" class="ax">48</text>
<text x="434.6" y="210.6" text-anchor="end" class="lt">L</text>
<path d="M365.5,254.4 C366.48,254.33 368.45,254.3 371.4,254 C374.35,253.7 378.28,252.95 383.2,252.6 C388.12,252.25 392.05,252.1 400.9,251.9 C409.75,251.7 430.4,251.48 436.3,251.4" stroke="#1c1c80" stroke-width="1" fill="none"/>
<path d="M365.5,251.8 L367.9,254.4 L365.5,257 L363.1,254.4 Z" fill="#000080"/>
<path d="M371.4,251.4 L373.8,254 L371.4,256.6 L369,254 Z" fill="#000080"/>
<path d="M383.2,250 L385.6,252.6 L383.2,255.2 L380.8,252.6 Z" fill="#000080"/>
<path d="M400.9,249.3 L403.3,251.9 L400.9,254.5 L398.5,251.9 Z" fill="#000080"/>
<path d="M436.3,248.8 L438.7,251.4 L436.3,254 L433.9,251.4 Z" fill="#000080"/>
<path d="M365.5,254.4 C366.48,254.3 368.45,254.17 371.4,253.8 C374.35,253.43 378.28,252.45 383.2,252.2 C388.12,251.95 392.05,252.4 400.9,252.3 C409.75,252.2 430.4,251.72 436.3,251.6" stroke="#cc2a40" stroke-width="1" fill="none"/>
<rect x="363.3" y="252.2" width="4.4" height="4.4" fill="#e8102a"/>
<rect x="369.2" y="251.6" width="4.4" height="4.4" fill="#e8102a"/>
<rect x="381" y="250" width="4.4" height="4.4" fill="#e8102a"/>
<rect x="398.7" y="250.1" width="4.4" height="4.4" fill="#e8102a"/>
<rect x="434.1" y="249.4" width="4.4" height="4.4" fill="#e8102a"/>
<path d="M365.5,254.4 C366.48,254.35 368.45,254.37 371.4,254.1 C374.35,253.83 378.28,253.22 383.2,252.8 C388.12,252.38 392.05,251.9 400.9,251.6 C409.75,251.3 430.4,251.1 436.3,251" stroke="#2a802a" stroke-width="1" fill="none"/>
<path d="M365.5,251.7 L368.2,256.6 L362.8,256.6 Z" fill="#108a10"/>
<path d="M371.4,251.4 L374.1,256.3 L368.7,256.3 Z" fill="#108a10"/>
<path d="M383.2,250.1 L385.9,255 L380.5,255 Z" fill="#108a10"/>
<path d="M400.9,248.9 L403.6,253.8 L398.2,253.8 Z" fill="#108a10"/>
<path d="M436.3,248.3 L439,253.2 L433.6,253.2 Z" fill="#108a10"/>
<rect x="38.5" y="269.4" width="70.3" height="59.8" fill="none" stroke="#c4c4c4" stroke-width="1"/>
<text x="34.3" y="331.9" text-anchor="end" class="ax">0</text>
<text x="34.3" y="321.93" text-anchor="end" class="ax">50</text>
<text x="34.3" y="311.97" text-anchor="end" class="ax">100</text>
<text x="34.3" y="302" text-anchor="end" class="ax">150</text>
<text x="34.3" y="292.03" text-anchor="end" class="ax">200</text>
<text x="34.3" y="282.07" text-anchor="end" class="ax">250</text>
<text x="34.3" y="272.1" text-anchor="end" class="ax">300</text>
<text x="38.5" y="340.7" text-anchor="middle" class="ax">0</text>
<text x="50.22" y="340.7" text-anchor="middle" class="ax">4</text>
<text x="61.93" y="340.7" text-anchor="middle" class="ax">8</text>
<text x="73.65" y="340.7" text-anchor="middle" class="ax">12</text>
<text x="85.37" y="340.7" text-anchor="middle" class="ax">16</text>
<text x="97.08" y="340.7" text-anchor="middle" class="ax">20</text>
<text x="108.8" y="340.7" text-anchor="middle" class="ax">24</text>
<text x="106" y="283.2" text-anchor="end" class="lt">M</text>
<path d="M38.5,329 C39.48,328.38 40.45,326.78 44.36,325.3 C48.26,323.82 51.19,319.87 61.93,320.1 C72.67,320.33 100.99,325.6 108.8,326.7" stroke="#1c1c80" stroke-width="1" fill="none"/>
<path d="M38.5,326.4 L40.9,329 L38.5,331.6 L36.1,329 Z" fill="#000080"/>
<path d="M44.36,322.7 L46.76,325.3 L44.36,327.9 L41.96,325.3 Z" fill="#000080"/>
<path d="M61.93,317.5 L64.33,320.1 L61.93,322.7 L59.53,320.1 Z" fill="#000080"/>
<path d="M108.8,324.1 L111.2,326.7 L108.8,329.3 L106.4,326.7 Z" fill="#000080"/>
<path d="M38.5,329 C39.48,322.53 40.45,298.8 44.36,290.2 C48.26,281.6 51.19,274.52 61.93,277.4 C72.67,280.28 100.99,302.48 108.8,307.5" stroke="#cc2a40" stroke-width="1" fill="none"/>
<rect x="36.3" y="326.8" width="4.4" height="4.4" fill="#e8102a"/>
<rect x="42.16" y="288" width="4.4" height="4.4" fill="#e8102a"/>
<rect x="59.73" y="275.2" width="4.4" height="4.4" fill="#e8102a"/>
<rect x="106.6" y="305.3" width="4.4" height="4.4" fill="#e8102a"/>
<path d="M38.5,329 C39.48,328.82 40.45,330.73 44.36,327.9 C48.26,325.07 51.19,312.15 61.93,312 C72.67,311.85 100.99,324.5 108.8,327" stroke="#2a802a" stroke-width="1" fill="none"/>
<path d="M38.5,326.3 L41.2,331.2 L35.8,331.2 Z" fill="#108a10"/>
<path d="M44.36,325.2 L47.06,330.1 L41.66,330.1 Z" fill="#108a10"/>
<path d="M61.93,309.3 L64.63,314.2 L59.23,314.2 Z" fill="#108a10"/>
<path d="M108.8,324.3 L111.5,329.2 L106.1,329.2 Z" fill="#108a10"/>
<rect x="132.5" y="269.4" width="71" height="59.8" fill="none" stroke="#c4c4c4" stroke-width="1"/>
<text x="128.3" y="331.9" text-anchor="end" class="ax">0</text>
<text x="128.3" y="321.93" text-anchor="end" class="ax">50</text>
<text x="128.3" y="311.97" text-anchor="end" class="ax">100</text>
<text x="128.3" y="302" text-anchor="end" class="ax">150</text>
<text x="128.3" y="292.03" text-anchor="end" class="ax">200</text>
<text x="128.3" y="282.07" text-anchor="end" class="ax">250</text>
<text x="128.3" y="272.1" text-anchor="end" class="ax">300</text>
<text x="132.5" y="340.7" text-anchor="middle" class="ax">0</text>
<text x="144.33" y="340.7" text-anchor="middle" class="ax">4</text>
<text x="156.17" y="340.7" text-anchor="middle" class="ax">8</text>
<text x="168" y="340.7" text-anchor="middle" class="ax">12</text>
<text x="179.83" y="340.7" text-anchor="middle" class="ax">16</text>
<text x="191.67" y="340.7" text-anchor="middle" class="ax">20</text>
<text x="203.5" y="340.7" text-anchor="middle" class="ax">24</text>
<text x="202" y="284.3" text-anchor="end" class="lt">N</text>
<path d="M132.5,329 C133.49,328.97 134.47,334.38 138.42,328.8 C142.36,323.22 145.32,297 156.17,295.5 C167.01,294 195.61,315.75 203.5,319.8" stroke="#1c1c80" stroke-width="1" fill="none"/>
<path d="M132.5,326.4 L134.9,329 L132.5,331.6 L130.1,329 Z" fill="#000080"/>
<path d="M138.42,326.2 L140.82,328.8 L138.42,331.4 L136.02,328.8 Z" fill="#000080"/>
<path d="M156.17,292.9 L158.57,295.5 L156.17,298.1 L153.77,295.5 Z" fill="#000080"/>
<path d="M203.5,317.2 L205.9,319.8 L203.5,322.4 L201.1,319.8 Z" fill="#000080"/>
<path d="M132.5,329 C133.49,327.47 134.47,329.13 138.42,319.8 C142.36,310.47 145.32,274.97 156.17,273 C167.01,271.03 195.61,302.17 203.5,308" stroke="#cc2a40" stroke-width="1" fill="none"/>
<rect x="130.3" y="326.8" width="4.4" height="4.4" fill="#e8102a"/>
<rect x="136.22" y="317.6" width="4.4" height="4.4" fill="#e8102a"/>
<rect x="153.97" y="270.8" width="4.4" height="4.4" fill="#e8102a"/>
<rect x="201.3" y="305.8" width="4.4" height="4.4" fill="#e8102a"/>
<path d="M132.5,329 C133.49,328.97 134.47,332.15 138.42,328.8 C142.36,325.45 145.32,309.92 156.17,308.9 C167.01,307.88 195.61,320.4 203.5,322.7" stroke="#2a802a" stroke-width="1" fill="none"/>
<path d="M132.5,326.3 L135.2,331.2 L129.8,331.2 Z" fill="#108a10"/>
<path d="M138.42,326.1 L141.12,331 L135.72,331 Z" fill="#108a10"/>
<path d="M156.17,306.2 L158.87,311.1 L153.47,311.1 Z" fill="#108a10"/>
<path d="M203.5,320 L206.2,324.9 L200.8,324.9 Z" fill="#108a10"/>
<rect x="272.4" y="268.6" width="70.1" height="60.2" fill="none" stroke="#c4c4c4" stroke-width="1"/>
<text x="268.2" y="331.5" text-anchor="end" class="ax">0</text>
<text x="268.2" y="321.47" text-anchor="end" class="ax">100</text>
<text x="268.2" y="311.43" text-anchor="end" class="ax">200</text>
<text x="268.2" y="301.4" text-anchor="end" class="ax">300</text>
<text x="268.2" y="291.37" text-anchor="end" class="ax">400</text>
<text x="268.2" y="281.33" text-anchor="end" class="ax">500</text>
<text x="268.2" y="271.3" text-anchor="end" class="ax">600</text>
<text x="272.4" y="340.3" text-anchor="middle" class="ax">0</text>
<text x="284.08" y="340.3" text-anchor="middle" class="ax">8</text>
<text x="295.77" y="340.3" text-anchor="middle" class="ax">16</text>
<text x="307.45" y="340.3" text-anchor="middle" class="ax">24</text>
<text x="319.13" y="340.3" text-anchor="middle" class="ax">32</text>
<text x="330.82" y="340.3" text-anchor="middle" class="ax">40</text>
<text x="342.5" y="340.3" text-anchor="middle" class="ax">48</text>
<text x="341.7" y="285.5" text-anchor="end" class="lt">O</text>
<path d="M307.45,326.7 V324.4 M305.85,324.4 H309.05" stroke="#1c1c80" stroke-width="1" fill="none"/>
<path d="M342.5,323.6 V321 M340.9,321 H344.1" stroke="#1c1c80" stroke-width="1" fill="none"/>
<path d="M272.4,328.6 C273.37,328.6 275.32,328.6 278.24,328.6 C281.16,328.6 285.06,328.92 289.92,328.6 C294.79,328.28 298.69,327.53 307.45,326.7 C316.21,325.87 336.66,324.12 342.5,323.6" stroke="#1c1c80" stroke-width="1" fill="none"/>
<path d="M272.4,326 L274.8,328.6 L272.4,331.2 L270,328.6 Z" fill="#000080"/>
<path d="M278.24,326 L280.64,328.6 L278.24,331.2 L275.84,328.6 Z" fill="#000080"/>
<path d="M289.92,326 L292.32,328.6 L289.92,331.2 L287.52,328.6 Z" fill="#000080"/>
<path d="M307.45,324.1 L309.85,326.7 L307.45,329.3 L305.05,326.7 Z" fill="#000080"/>
<path d="M342.5,321 L344.9,323.6 L342.5,326.2 L340.1,323.6 Z" fill="#000080"/>
<path d="M342.5,310 V306.3 M340.9,306.3 H344.1" stroke="#cc2a40" stroke-width="1" fill="none"/>
<path d="M272.4,328.6 C273.37,328.57 275.32,329.38 278.24,328.4 C281.16,327.42 285.06,324.72 289.92,322.7 C294.79,320.68 298.69,318.42 307.45,316.3 C316.21,314.18 336.66,311.05 342.5,310" stroke="#cc2a40" stroke-width="1" fill="none"/>
<circle cx="272.4" cy="328.6" r="2.5" fill="#e8102a"/>
<circle cx="278.24" cy="328.4" r="2.5" fill="#e8102a"/>
<circle cx="289.92" cy="322.7" r="2.5" fill="#e8102a"/>
<circle cx="307.45" cy="316.3" r="2.5" fill="#e8102a"/>
<circle cx="342.5" cy="310" r="2.5" fill="#e8102a"/>
<rect x="365.5" y="268.6" width="70.8" height="60.2" fill="none" stroke="#c4c4c4" stroke-width="1"/>
<text x="361.3" y="331.5" text-anchor="end" class="ax">0</text>
<text x="361.3" y="321.47" text-anchor="end" class="ax">100</text>
<text x="361.3" y="311.43" text-anchor="end" class="ax">200</text>
<text x="361.3" y="301.4" text-anchor="end" class="ax">300</text>
<text x="361.3" y="291.37" text-anchor="end" class="ax">400</text>
<text x="361.3" y="281.33" text-anchor="end" class="ax">500</text>
<text x="361.3" y="271.3" text-anchor="end" class="ax">600</text>
<text x="365.5" y="340.3" text-anchor="middle" class="ax">0</text>
<text x="377.3" y="340.3" text-anchor="middle" class="ax">8</text>
<text x="389.1" y="340.3" text-anchor="middle" class="ax">16</text>
<text x="400.9" y="340.3" text-anchor="middle" class="ax">24</text>
<text x="412.7" y="340.3" text-anchor="middle" class="ax">32</text>
<text x="424.5" y="340.3" text-anchor="middle" class="ax">40</text>
<text x="436.3" y="340.3" text-anchor="middle" class="ax">48</text>
<text x="433.1" y="284.2" text-anchor="end" class="lt">P</text>
<path d="M400.9,325 V318.4 M399.3,318.4 H402.5" stroke="#1c1c80" stroke-width="1" fill="none"/>
<path d="M436.3,316.3 V299.9 M434.7,299.9 H437.9" stroke="#1c1c80" stroke-width="1" fill="none"/>
<path d="M365.5,328.6 C366.48,328.6 368.45,328.63 371.4,328.6 C374.35,328.57 378.28,329 383.2,328.4 C388.12,327.8 392.05,327.02 400.9,325 C409.75,322.98 430.4,317.75 436.3,316.3" stroke="#1c1c80" stroke-width="1" fill="none"/>
<path d="M365.5,326 L367.9,328.6 L365.5,331.2 L363.1,328.6 Z" fill="#000080"/>
<path d="M371.4,326 L373.8,328.6 L371.4,331.2 L369,328.6 Z" fill="#000080"/>
<path d="M383.2,325.8 L385.6,328.4 L383.2,331 L380.8,328.4 Z" fill="#000080"/>
<path d="M400.9,322.4 L403.3,325 L400.9,327.6 L398.5,325 Z" fill="#000080"/>
<path d="M436.3,313.7 L438.7,316.3 L436.3,318.9 L433.9,316.3 Z" fill="#000080"/>
<path d="M383.2,318 V312.3 M381.6,312.3 H384.8" stroke="#cc2a40" stroke-width="1" fill="none"/>
<path d="M400.9,305 V292.4 M399.3,292.4 H402.5" stroke="#cc2a40" stroke-width="1" fill="none"/>
<path d="M436.3,291.2 V272.5 M434.7,272.5 H437.9" stroke="#cc2a40" stroke-width="1" fill="none"/>
<path d="M365.5,328.6 C366.48,328.53 368.45,329.97 371.4,328.2 C374.35,326.43 378.28,321.87 383.2,318 C388.12,314.13 392.05,309.47 400.9,305 C409.75,300.53 430.4,293.5 436.3,291.2" stroke="#cc2a40" stroke-width="1" fill="none"/>
<rect x="363.3" y="326.4" width="4.4" height="4.4" fill="#e8102a"/>
<rect x="369.2" y="326" width="4.4" height="4.4" fill="#e8102a"/>
<rect x="381" y="315.8" width="4.4" height="4.4" fill="#e8102a"/>
<rect x="398.7" y="302.8" width="4.4" height="4.4" fill="#e8102a"/>
<rect x="434.1" y="289" width="4.4" height="4.4" fill="#e8102a"/>
<rect x="38.5" y="345.5" width="70.3" height="59.3" fill="none" stroke="#c4c4c4" stroke-width="1"/>
<text x="34.3" y="407.5" text-anchor="end" class="ax">0</text>
<text x="34.3" y="397.62" text-anchor="end" class="ax">20</text>
<text x="34.3" y="387.73" text-anchor="end" class="ax">40</text>
<text x="34.3" y="377.85" text-anchor="end" class="ax">60</text>
<text x="34.3" y="367.97" text-anchor="end" class="ax">80</text>
<text x="34.3" y="358.08" text-anchor="end" class="ax">100</text>
<text x="34.3" y="348.2" text-anchor="end" class="ax">120</text>
<text x="38.5" y="416.3" text-anchor="middle" class="ax">0</text>
<text x="50.22" y="416.3" text-anchor="middle" class="ax">4</text>
<text x="61.93" y="416.3" text-anchor="middle" class="ax">8</text>
<text x="73.65" y="416.3" text-anchor="middle" class="ax">12</text>
<text x="85.37" y="416.3" text-anchor="middle" class="ax">16</text>
<text x="97.08" y="416.3" text-anchor="middle" class="ax">20</text>
<text x="108.8" y="416.3" text-anchor="middle" class="ax">24</text>
<text x="106.6" y="360.6" text-anchor="end" class="lt">Q</text>
<path d="M38.5,404.6 L44.36,404.6 L61.93,404.4 L108.8,399.4" stroke="#1c1c80" stroke-width="1" fill="none"/>
<path d="M38.5,402 L40.9,404.6 L38.5,407.2 L36.1,404.6 Z" fill="#000080"/>
<path d="M44.36,402 L46.76,404.6 L44.36,407.2 L41.96,404.6 Z" fill="#000080"/>
<path d="M61.93,401.8 L64.33,404.4 L61.93,407 L59.53,404.4 Z" fill="#000080"/>
<path d="M108.8,396.8 L111.2,399.4 L108.8,402 L106.4,399.4 Z" fill="#000080"/>
<path d="M38.5,404.1 L44.36,403.8 L61.93,401.2 L108.8,371.7" stroke="#cc2a40" stroke-width="1" fill="none"/>
<rect x="36.3" y="401.9" width="4.4" height="4.4" fill="#e8102a"/>
<rect x="42.16" y="401.6" width="4.4" height="4.4" fill="#e8102a"/>
<rect x="59.73" y="399" width="4.4" height="4.4" fill="#e8102a"/>
<rect x="106.6" y="369.5" width="4.4" height="4.4" fill="#e8102a"/>
<path d="M38.5,404.6 L44.36,404.5 L61.93,404.5 L108.8,388.2" stroke="#2a802a" stroke-width="1" fill="none"/>
<path d="M38.5,401.9 L41.2,406.8 L35.8,406.8 Z" fill="#108a10"/>
<path d="M44.36,401.8 L47.06,406.7 L41.66,406.7 Z" fill="#108a10"/>
<path d="M61.93,401.8 L64.63,406.7 L59.23,406.7 Z" fill="#108a10"/>
<path d="M108.8,385.5 L111.5,390.4 L106.1,390.4 Z" fill="#108a10"/>
<rect x="132.5" y="345.5" width="71" height="59.3" fill="none" stroke="#c4c4c4" stroke-width="1"/>
<text x="128.3" y="407.5" text-anchor="end" class="ax">0</text>
<text x="128.3" y="397.62" text-anchor="end" class="ax">20</text>
<text x="128.3" y="387.73" text-anchor="end" class="ax">40</text>
<text x="128.3" y="377.85" text-anchor="end" class="ax">60</text>
<text x="128.3" y="367.97" text-anchor="end" class="ax">80</text>
<text x="128.3" y="358.08" text-anchor="end" class="ax">100</text>
<text x="128.3" y="348.2" text-anchor="end" class="ax">120</text>
<text x="132.5" y="416.3" text-anchor="middle" class="ax">0</text>
<text x="144.33" y="416.3" text-anchor="middle" class="ax">4</text>
<text x="156.17" y="416.3" text-anchor="middle" class="ax">8</text>
<text x="168" y="416.3" text-anchor="middle" class="ax">12</text>
<text x="179.83" y="416.3" text-anchor="middle" class="ax">16</text>
<text x="191.67" y="416.3" text-anchor="middle" class="ax">20</text>
<text x="203.5" y="416.3" text-anchor="middle" class="ax">24</text>
<text x="202.4" y="361.8" text-anchor="end" class="lt">R</text>
<path d="M132.5,404.6 C133.49,404.55 134.47,404.52 138.42,404.3 C142.36,404.08 145.32,407.13 156.17,403.3 C167.01,399.47 195.61,384.97 203.5,381.3" stroke="#1c1c80" stroke-width="1" fill="none"/>
<path d="M132.5,402 L134.9,404.6 L132.5,407.2 L130.1,404.6 Z" fill="#000080"/>
<path d="M138.42,401.7 L140.82,404.3 L138.42,406.9 L136.02,404.3 Z" fill="#000080"/>
<path d="M156.17,400.7 L158.57,403.3 L156.17,405.9 L153.77,403.3 Z" fill="#000080"/>
<path d="M203.5,378.7 L205.9,381.3 L203.5,383.9 L201.1,381.3 Z" fill="#000080"/>
<path d="M132.5,402.9 C133.49,400.37 134.47,396.22 138.42,387.7 C142.36,379.18 145.32,354.32 156.17,351.8 C167.01,349.28 195.61,369.13 203.5,372.6" stroke="#cc2a40" stroke-width="1" fill="none"/>
<rect x="130.3" y="400.7" width="4.4" height="4.4" fill="#e8102a"/>
<rect x="136.22" y="385.5" width="4.4" height="4.4" fill="#e8102a"/>
<rect x="153.97" y="349.6" width="4.4" height="4.4" fill="#e8102a"/>
<rect x="201.3" y="370.4" width="4.4" height="4.4" fill="#e8102a"/>
<path d="M132.5,404.6 C133.49,404.52 134.47,404.38 138.42,404.1 C142.36,403.82 145.32,407.72 156.17,402.9 C167.01,398.08 195.61,379.82 203.5,375.2" stroke="#2a802a" stroke-width="1" fill="none"/>
<path d="M132.5,401.9 L135.2,406.8 L129.8,406.8 Z" fill="#108a10"/>
<path d="M138.42,401.4 L141.12,406.3 L135.72,406.3 Z" fill="#108a10"/>
<path d="M156.17,400.2 L158.87,405.1 L153.47,405.1 Z" fill="#108a10"/>
<path d="M203.5,372.5 L206.2,377.4 L200.8,377.4 Z" fill="#108a10"/>
<rect x="272.4" y="345.5" width="70.1" height="60.8" fill="none" stroke="#c4c4c4" stroke-width="1"/>
<text x="268.2" y="409" text-anchor="end" class="ax">0</text>
<text x="268.2" y="393.8" text-anchor="end" class="ax">300</text>
<text x="268.2" y="378.6" text-anchor="end" class="ax">600</text>
<text x="268.2" y="363.4" text-anchor="end" class="ax">900</text>
<text x="268.2" y="348.2" text-anchor="end" class="ax">1200</text>
<text x="272.4" y="417.8" text-anchor="middle" class="ax">0</text>
<text x="284.08" y="417.8" text-anchor="middle" class="ax">8</text>
<text x="295.77" y="417.8" text-anchor="middle" class="ax">16</text>
<text x="307.45" y="417.8" text-anchor="middle" class="ax">24</text>
<text x="319.13" y="417.8" text-anchor="middle" class="ax">32</text>
<text x="330.82" y="417.8" text-anchor="middle" class="ax">40</text>
<text x="342.5" y="417.8" text-anchor="middle" class="ax">48</text>
<text x="340.3" y="362.2" text-anchor="end" class="lt">S</text>
<path d="M342.5,404.3 V401 M340.9,401 H344.1" stroke="#1c1c80" stroke-width="1" fill="none"/>
<path d="M272.4,406.2 C273.37,406.2 275.32,406.2 278.24,406.2 C281.16,406.2 285.06,406.23 289.92,406.2 C294.79,406.17 298.69,406.32 307.45,406 C316.21,405.68 336.66,404.58 342.5,404.3" stroke="#1c1c80" stroke-width="1" fill="none"/>
<path d="M272.4,403.6 L274.8,406.2 L272.4,408.8 L270,406.2 Z" fill="#000080"/>
<path d="M278.24,403.6 L280.64,406.2 L278.24,408.8 L275.84,406.2 Z" fill="#000080"/>
<path d="M289.92,403.6 L292.32,406.2 L289.92,408.8 L287.52,406.2 Z" fill="#000080"/>
<path d="M307.45,403.4 L309.85,406 L307.45,408.6 L305.05,406 Z" fill="#000080"/>
<path d="M342.5,401.7 L344.9,404.3 L342.5,406.9 L340.1,404.3 Z" fill="#000080"/>
<path d="M342.5,387.8 V376.4 M340.9,376.4 H344.1" stroke="#cc2a40" stroke-width="1" fill="none"/>
<path d="M272.4,406.2 C273.37,406.2 275.32,406.2 278.24,406.2 C281.16,406.2 285.06,406.57 289.92,406.2 C294.79,405.83 298.69,407.07 307.45,404 C316.21,400.93 336.66,390.5 342.5,387.8" stroke="#cc2a40" stroke-width="1" fill="none"/>
<rect x="270.2" y="404" width="4.4" height="4.4" fill="#e8102a"/>
<rect x="276.04" y="404" width="4.4" height="4.4" fill="#e8102a"/>
<rect x="287.72" y="404" width="4.4" height="4.4" fill="#e8102a"/>
<rect x="305.25" y="401.8" width="4.4" height="4.4" fill="#e8102a"/>
<rect x="340.3" y="385.6" width="4.4" height="4.4" fill="#e8102a"/>
<path d="M342.5,402.2 V397.7 M340.9,397.7 H344.1" stroke="#2a802a" stroke-width="1" fill="none"/>
<path d="M272.4,406.2 C273.37,406.2 275.32,406.2 278.24,406.2 C281.16,406.2 285.06,406.23 289.92,406.2 C294.79,406.17 298.69,406.67 307.45,406 C316.21,405.33 336.66,402.83 342.5,402.2" stroke="#2a802a" stroke-width="1" fill="none"/>
<path d="M272.4,403.5 L275.1,408.4 L269.7,408.4 Z" fill="#108a10"/>
<path d="M278.24,403.5 L280.94,408.4 L275.54,408.4 Z" fill="#108a10"/>
<path d="M289.92,403.5 L292.62,408.4 L287.22,408.4 Z" fill="#108a10"/>
<path d="M307.45,403.3 L310.15,408.2 L304.75,408.2 Z" fill="#108a10"/>
<path d="M342.5,399.5 L345.2,404.4 L339.8,404.4 Z" fill="#108a10"/>
<rect x="365.5" y="345.5" width="70.8" height="60.8" fill="none" stroke="#c4c4c4" stroke-width="1"/>
<text x="361.3" y="409" text-anchor="end" class="ax">0</text>
<text x="361.3" y="395.97" text-anchor="end" class="ax">300</text>
<text x="361.3" y="382.94" text-anchor="end" class="ax">600</text>
<text x="361.3" y="369.91" text-anchor="end" class="ax">900</text>
<text x="361.3" y="356.89" text-anchor="end" class="ax">1200</text>
<text x="365.5" y="417.8" text-anchor="middle" class="ax">0</text>
<text x="377.3" y="417.8" text-anchor="middle" class="ax">8</text>
<text x="389.1" y="417.8" text-anchor="middle" class="ax">16</text>
<text x="400.9" y="417.8" text-anchor="middle" class="ax">24</text>
<text x="412.7" y="417.8" text-anchor="middle" class="ax">32</text>
<text x="424.5" y="417.8" text-anchor="middle" class="ax">40</text>
<text x="436.3" y="417.8" text-anchor="middle" class="ax">48</text>
<text x="432.7" y="360.1" text-anchor="end" class="lt">T</text>
<path d="M436.3,401.7 V399.4 M434.7,399.4 H437.9" stroke="#1c1c80" stroke-width="1" fill="none"/>
<path d="M365.5,406.2 C366.48,406.2 368.45,406.37 371.4,406.2 C374.35,406.03 378.28,405.67 383.2,405.2 C388.12,404.73 392.05,403.98 400.9,403.4 C409.75,402.82 430.4,401.98 436.3,401.7" stroke="#1c1c80" stroke-width="1" fill="none"/>
<path d="M365.5,403.6 L367.9,406.2 L365.5,408.8 L363.1,406.2 Z" fill="#000080"/>
<path d="M371.4,403.6 L373.8,406.2 L371.4,408.8 L369,406.2 Z" fill="#000080"/>
<path d="M383.2,402.6 L385.6,405.2 L383.2,407.8 L380.8,405.2 Z" fill="#000080"/>
<path d="M400.9,400.8 L403.3,403.4 L400.9,406 L398.5,403.4 Z" fill="#000080"/>
<path d="M436.3,399.1 L438.7,401.7 L436.3,404.3 L433.9,401.7 Z" fill="#000080"/>
<path d="M371.4,401.2 V399.4 M369.8,399.4 H373" stroke="#cc2a40" stroke-width="1" fill="none"/>
<path d="M383.2,380.9 V371.2 M381.6,371.2 H384.8" stroke="#cc2a40" stroke-width="1" fill="none"/>
<path d="M400.9,363.6 V348.4 M399.3,348.4 H402.5" stroke="#cc2a40" stroke-width="1" fill="none"/>
<path d="M436.3,361.9 V350.5 M434.7,350.5 H437.9" stroke="#cc2a40" stroke-width="1" fill="none"/>
<path d="M365.5,404.6 C366.48,404.03 368.45,405.15 371.4,401.2 C374.35,397.25 378.28,387.17 383.2,380.9 C388.12,374.63 392.05,366.77 400.9,363.6 C409.75,360.43 430.4,362.18 436.3,361.9" stroke="#cc2a40" stroke-width="1" fill="none"/>
<rect x="363.3" y="402.4" width="4.4" height="4.4" fill="#e8102a"/>
<rect x="369.2" y="399" width="4.4" height="4.4" fill="#e8102a"/>
<rect x="381" y="378.7" width="4.4" height="4.4" fill="#e8102a"/>
<rect x="398.7" y="361.4" width="4.4" height="4.4" fill="#e8102a"/>
<rect x="434.1" y="359.7" width="4.4" height="4.4" fill="#e8102a"/>
<path d="M365.5,406.2 C366.48,406.2 368.45,406.2 371.4,406.2 C374.35,406.2 378.28,406.23 383.2,406.2 C388.12,406.17 392.05,406.55 400.9,406 C409.75,405.45 430.4,403.42 436.3,402.9" stroke="#2a802a" stroke-width="1" fill="none"/>
<path d="M365.5,403.5 L368.2,408.4 L362.8,408.4 Z" fill="#108a10"/>
<path d="M371.4,403.5 L374.1,408.4 L368.7,408.4 Z" fill="#108a10"/>
<path d="M383.2,403.5 L385.9,408.4 L380.5,408.4 Z" fill="#108a10"/>
<path d="M400.9,403.3 L403.6,408.2 L398.2,408.2 Z" fill="#108a10"/>
<path d="M436.3,400.2 L439,405.1 L433.6,405.1 Z" fill="#108a10"/>
<rect x="38.5" y="421" width="70.3" height="59.6" fill="none" stroke="#c4c4c4" stroke-width="1"/>
<text x="34.3" y="483.3" text-anchor="end" class="ax">0</text>
<text x="34.3" y="471.38" text-anchor="end" class="ax">5</text>
<text x="34.3" y="459.46" text-anchor="end" class="ax">10</text>
<text x="34.3" y="447.54" text-anchor="end" class="ax">15</text>
<text x="34.3" y="435.62" text-anchor="end" class="ax">20</text>
<text x="34.3" y="423.7" text-anchor="end" class="ax">25</text>
<text x="38.5" y="492.1" text-anchor="middle" class="ax">0</text>
<text x="50.22" y="492.1" text-anchor="middle" class="ax">4</text>
<text x="61.93" y="492.1" text-anchor="middle" class="ax">8</text>
<text x="73.65" y="492.1" text-anchor="middle" class="ax">12</text>
<text x="85.37" y="492.1" text-anchor="middle" class="ax">16</text>
<text x="97.08" y="492.1" text-anchor="middle" class="ax">20</text>
<text x="108.8" y="492.1" text-anchor="middle" class="ax">24</text>
<text x="106.8" y="436.1" text-anchor="end" class="lt">U</text>
<path d="M38.5,480 C39.48,480.03 40.45,480.2 44.36,480.2 C48.26,480.2 51.19,479.97 61.93,480 C72.67,480.03 100.99,480.33 108.8,480.4" stroke="#1c1c80" stroke-width="1" fill="none"/>
<path d="M38.5,477.4 L40.9,480 L38.5,482.6 L36.1,480 Z" fill="#000080"/>
<path d="M44.36,477.6 L46.76,480.2 L44.36,482.8 L41.96,480.2 Z" fill="#000080"/>
<path d="M61.93,477.4 L64.33,480 L61.93,482.6 L59.53,480 Z" fill="#000080"/>
<path d="M108.8,477.8 L111.2,480.4 L108.8,483 L106.4,480.4 Z" fill="#000080"/>
<path d="M38.5,479.4 C39.48,479.27 40.45,478.6 44.36,478.6 C48.26,478.6 51.19,479.4 61.93,479.4 C72.67,479.4 100.99,478.73 108.8,478.6" stroke="#cc2a40" stroke-width="1" fill="none"/>
<rect x="36.3" y="477.2" width="4.4" height="4.4" fill="#e8102a"/>
<rect x="42.16" y="476.4" width="4.4" height="4.4" fill="#e8102a"/>
<rect x="59.73" y="477.2" width="4.4" height="4.4" fill="#e8102a"/>
<rect x="106.6" y="476.4" width="4.4" height="4.4" fill="#e8102a"/>
<rect x="132.5" y="421" width="71" height="59.6" fill="none" stroke="#c4c4c4" stroke-width="1"/>
<text x="128.3" y="483.3" text-anchor="end" class="ax">0</text>
<text x="128.3" y="471.38" text-anchor="end" class="ax">5</text>
<text x="128.3" y="459.46" text-anchor="end" class="ax">10</text>
<text x="128.3" y="447.54" text-anchor="end" class="ax">15</text>
<text x="128.3" y="435.62" text-anchor="end" class="ax">20</text>
<text x="128.3" y="423.7" text-anchor="end" class="ax">25</text>
<text x="132.5" y="492.1" text-anchor="middle" class="ax">0</text>
<text x="144.33" y="492.1" text-anchor="middle" class="ax">4</text>
<text x="156.17" y="492.1" text-anchor="middle" class="ax">8</text>
<text x="168" y="492.1" text-anchor="middle" class="ax">12</text>
<text x="179.83" y="492.1" text-anchor="middle" class="ax">16</text>
<text x="191.67" y="492.1" text-anchor="middle" class="ax">20</text>
<text x="203.5" y="492.1" text-anchor="middle" class="ax">24</text>
<text x="201.2" y="437.7" text-anchor="end" class="lt">V</text>
<path d="M132.5,479.6 C133.49,479.5 134.47,479.28 138.42,479 C142.36,478.72 145.32,481.75 156.17,477.9 C167.01,474.05 195.61,459.57 203.5,455.9" stroke="#1c1c80" stroke-width="1" fill="none"/>
<path d="M132.5,477 L134.9,479.6 L132.5,482.2 L130.1,479.6 Z" fill="#000080"/>
<path d="M138.42,476.4 L140.82,479 L138.42,481.6 L136.02,479 Z" fill="#000080"/>
<path d="M156.17,475.3 L158.57,477.9 L156.17,480.5 L153.77,477.9 Z" fill="#000080"/>
<path d="M203.5,453.3 L205.9,455.9 L203.5,458.5 L201.1,455.9 Z" fill="#000080"/>
<path d="M132.5,478.4 C133.49,478.32 134.47,481.58 138.42,477.9 C142.36,474.22 145.32,465.9 156.17,456.3 C167.01,446.7 195.61,426.3 203.5,420.3" stroke="#cc2a40" stroke-width="1" fill="none"/>
<rect x="130.3" y="476.2" width="4.4" height="4.4" fill="#e8102a"/>
<rect x="136.22" y="475.7" width="4.4" height="4.4" fill="#e8102a"/>
<rect x="153.97" y="454.1" width="4.4" height="4.4" fill="#e8102a"/>
<rect x="201.3" y="418.1" width="4.4" height="4.4" fill="#e8102a"/>
<rect x="272.4" y="420.2" width="70.1" height="60.6" fill="none" stroke="#c4c4c4" stroke-width="1"/>
<text x="268.2" y="483.5" text-anchor="end" class="ax">0</text>
<text x="268.2" y="471.38" text-anchor="end" class="ax">50</text>
<text x="268.2" y="459.26" text-anchor="end" class="ax">100</text>
<text x="268.2" y="447.14" text-anchor="end" class="ax">150</text>
<text x="268.2" y="435.02" text-anchor="end" class="ax">200</text>
<text x="268.2" y="422.9" text-anchor="end" class="ax">250</text>
<text x="272.4" y="492.3" text-anchor="middle" class="ax">0</text>
<text x="284.08" y="492.3" text-anchor="middle" class="ax">8</text>
<text x="295.77" y="492.3" text-anchor="middle" class="ax">16</text>
<text x="307.45" y="492.3" text-anchor="middle" class="ax">24</text>
<text x="319.13" y="492.3" text-anchor="middle" class="ax">32</text>
<text x="330.82" y="492.3" text-anchor="middle" class="ax">40</text>
<text x="342.5" y="492.3" text-anchor="middle" class="ax">48</text>
<text x="340.1" y="436.6" text-anchor="end" class="lt">W</text>
<path d="M272.4,480.6 C273.37,480.6 275.32,480.6 278.24,480.6 C281.16,480.6 285.06,480.6 289.92,480.6 C294.79,480.6 298.69,480.6 307.45,480.6 C316.21,480.6 336.66,480.6 342.5,480.6" stroke="#1c1c80" stroke-width="1" fill="none"/>
<path d="M272.4,478 L274.8,480.6 L272.4,483.2 L270,480.6 Z" fill="#000080"/>
<path d="M278.24,478 L280.64,480.6 L278.24,483.2 L275.84,480.6 Z" fill="#000080"/>
<path d="M289.92,478 L292.32,480.6 L289.92,483.2 L287.52,480.6 Z" fill="#000080"/>
<path d="M307.45,478 L309.85,480.6 L307.45,483.2 L305.05,480.6 Z" fill="#000080"/>
<path d="M342.5,478 L344.9,480.6 L342.5,483.2 L340.1,480.6 Z" fill="#000080"/>
<rect x="365.5" y="420.2" width="70.8" height="60.6" fill="none" stroke="#c4c4c4" stroke-width="1"/>
<text x="361.3" y="483.5" text-anchor="end" class="ax">0</text>
<text x="361.3" y="471.38" text-anchor="end" class="ax">50</text>
<text x="361.3" y="459.26" text-anchor="end" class="ax">100</text>
<text x="361.3" y="447.14" text-anchor="end" class="ax">150</text>
<text x="361.3" y="435.02" text-anchor="end" class="ax">200</text>
<text x="361.3" y="422.9" text-anchor="end" class="ax">250</text>
<text x="365.5" y="492.3" text-anchor="middle" class="ax">0</text>
<text x="377.3" y="492.3" text-anchor="middle" class="ax">8</text>
<text x="389.1" y="492.3" text-anchor="middle" class="ax">16</text>
<text x="400.9" y="492.3" text-anchor="middle" class="ax">24</text>
<text x="412.7" y="492.3" text-anchor="middle" class="ax">32</text>
<text x="424.5" y="492.3" text-anchor="middle" class="ax">40</text>
<text x="436.3" y="492.3" text-anchor="middle" class="ax">48</text>
<text x="431.3" y="435.7" text-anchor="end" class="lt">X</text>
<path d="M400.9,472.2 V468.7 M399.3,468.7 H402.5" stroke="#1c1c80" stroke-width="1" fill="none"/>
<path d="M436.3,439 V419.9 M434.7,419.9 H437.9" stroke="#1c1c80" stroke-width="1" fill="none"/>
<path d="M365.5,480.6 C366.48,480.6 368.45,480.6 371.4,480.6 C374.35,480.6 378.28,482 383.2,480.6 C388.12,479.2 392.05,479.13 400.9,472.2 C409.75,465.27 430.4,444.53 436.3,439" stroke="#1c1c80" stroke-width="1" fill="none"/>
<path d="M365.5,478 L367.9,480.6 L365.5,483.2 L363.1,480.6 Z" fill="#000080"/>
<path d="M371.4,478 L373.8,480.6 L371.4,483.2 L369,480.6 Z" fill="#000080"/>
<path d="M383.2,478 L385.6,480.6 L383.2,483.2 L380.8,480.6 Z" fill="#000080"/>
<path d="M400.9,469.6 L403.3,472.2 L400.9,474.8 L398.5,472.2 Z" fill="#000080"/>
<path d="M436.3,436.4 L438.7,439 L436.3,441.6 L433.9,439 Z" fill="#000080"/>
<path d="M463.7,50.5 H482.7" stroke="#2828e0" stroke-width="1.6"/>
<path d="M473.2,45.9 L477.5,50.5 L473.2,55.1 L468.9,50.5 Z" fill="#2828e0"/>
<text x="487.8" y="54.3" class="lg">CXCL16</text>
<path d="M463.7,66.5 H482.7" stroke="#ee1424" stroke-width="1.6"/>
<rect x="468.9" y="62.2" width="8.6" height="8.6" fill="#ee1424"/>
<text x="487.8" y="70.3" class="lg">CXCL4</text>
<path d="M463.7,124.9 H482.7" stroke="#2828e0" stroke-width="1.6"/>
<path d="M473.2,120.3 L477.5,124.9 L473.2,129.5 L468.9,124.9 Z" fill="#2828e0"/>
<text x="487.8" y="128.7" class="lg">CXCL8</text>
<path d="M463.7,139 H482.7" stroke="#ee1424" stroke-width="1.6"/>
<rect x="468.9" y="134.7" width="8.6" height="8.6" fill="#ee1424"/>
<text x="487.8" y="142.8" class="lg">CXCL1</text>
<path d="M463.7,153.2 H482.7" stroke="#14d414" stroke-width="1.6"/>
<path d="M473.2,148.6 L478.4,156.8 L468,156.8 Z" fill="#14d414"/>
<text x="487.8" y="157" class="lg">CXCL2</text>
<path d="M463.7,167.9 H482.7" stroke="#f5881e" stroke-width="1.6"/>
<circle cx="473.2" cy="167.9" r="4.1" fill="#f5881e"/>
<text x="487.8" y="171.7" class="lg">CXCL3</text>
<path d="M463.7,201.5 H482.7" stroke="#2828e0" stroke-width="1.6"/>
<path d="M473.2,196.9 L477.5,201.5 L473.2,206.1 L468.9,201.5 Z" fill="#2828e0"/>
<text x="487.8" y="205.3" class="lg">CCL3</text>
<path d="M463.7,216.2 H482.7" stroke="#ee1424" stroke-width="1.6"/>
<rect x="468.9" y="211.9" width="8.6" height="8.6" fill="#ee1424"/>
<text x="487.8" y="220" class="lg">CCL4</text>
<path d="M463.7,230.7 H482.7" stroke="#14d414" stroke-width="1.6"/>
<path d="M473.2,226.1 L478.4,234.3 L468,234.3 Z" fill="#14d414"/>
<text x="487.8" y="234.5" class="lg">CCL5</text>
<path d="M463.7,276.8 H482.7" stroke="#2828e0" stroke-width="1.6"/>
<path d="M473.2,272.2 L477.5,276.8 L473.2,281.4 L468.9,276.8 Z" fill="#2828e0"/>
<text x="487.8" y="280.6" class="lg">CXCL9</text>
<path d="M463.7,291.5 H482.7" stroke="#ee1424" stroke-width="1.6"/>
<rect x="468.9" y="287.2" width="8.6" height="8.6" fill="#ee1424"/>
<text x="487.8" y="295.3" class="lg">CXCL10</text>
<path d="M463.7,306 H482.7" stroke="#14d414" stroke-width="1.6"/>
<path d="M473.2,301.4 L478.4,309.6 L468,309.6 Z" fill="#14d414"/>
<text x="487.8" y="309.8" class="lg">CXCL11</text>
<path d="M463.7,353.6 H482.7" stroke="#2828e0" stroke-width="1.6"/>
<path d="M473.2,349 L477.5,353.6 L473.2,358.2 L468.9,353.6 Z" fill="#2828e0"/>
<text x="487.8" y="357.4" class="lg">CCL19</text>
<path d="M463.7,368 H482.7" stroke="#ee1424" stroke-width="1.6"/>
<rect x="468.9" y="363.7" width="8.6" height="8.6" fill="#ee1424"/>
<text x="487.8" y="371.8" class="lg">CCL22</text>
<path d="M463.7,382.5 H482.7" stroke="#14d414" stroke-width="1.6"/>
<path d="M473.2,377.9 L478.4,386.1 L468,386.1 Z" fill="#14d414"/>
<text x="487.8" y="386.3" class="lg">CXCL13</text>
<path d="M463.7,428 H482.7" stroke="#2828e0" stroke-width="1.6"/>
<path d="M473.2,423.4 L477.5,428 L473.2,432.6 L468.9,428 Z" fill="#2828e0"/>
<text x="487.8" y="431.8" class="lg">CCL2</text>
<path d="M463.7,442.3 H482.7" stroke="#ee1424" stroke-width="1.6"/>
<rect x="468.9" y="438" width="8.6" height="8.6" fill="#ee1424"/>
<text x="487.8" y="446.1" class="lg">CCL8</text>
</g>
</svg>
</div></body></html>
